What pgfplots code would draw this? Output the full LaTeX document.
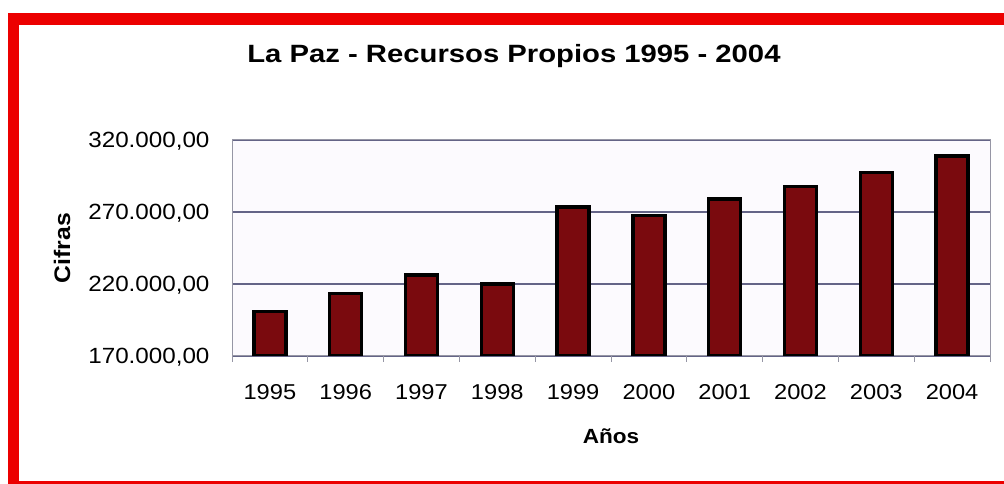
\documentclass[border=0pt]{standalone}
\usepackage{fontspec}
\setmainfont{Liberation Sans}[FakeStretch=1.1]
\newfontfamily\titlefont{Liberation Sans}[FakeStretch=1.17]
\usepackage{pgfplots}
\pgfplotsset{compat=1.18}
\definecolor{barred}{RGB}{122,10,14}
\definecolor{framered}{RGB}{236,0,0}
\definecolor{gridc}{RGB}{100,100,135}
\definecolor{plotbg}{RGB}{252,250,254}
\definecolor{axisc}{RGB}{150,150,165}
\begin{document}
\begin{tikzpicture}[x=1pt,y=1pt]
\path[use as bounding box] (0,0) rectangle (1004,484);
\fill[framered] (8,0) rectangle (19,471);
\fill[framered] (8,459) rectangle (1004,471);
\fill[framered] (8,0) rectangle (1004,2.5);
\begin{axis}[
  at={(232pt,128pt)}, anchor=south west,
  scale only axis, width=758pt, height=216pt,
  xmin=-0.5, xmax=9.5, ymin=170000, ymax=320000,
  scaled y ticks=false,
  xtick pos=bottom, ytick pos=left,
  axis background/.style={fill=plotbg},
  axis line style={draw=axisc, line width=1pt},
  ymajorgrids, grid style={draw=gridc, line width=1.2pt},
  ytick={170000,220000,270000,320000},
  yticklabels={{170.000,00},{220.000,00},{270.000,00},{320.000,00}},
  ytick style={draw=none},
  yticklabel style={font=\fontsize{22}{26}\selectfont, anchor=base east, xshift=-13pt, yshift=-8pt},
  xtick={-0.5,0.5,1.5,2.5,3.5,4.5,5.5,6.5,7.5,8.5,9.5},
  xticklabels={},
  tick align=outside, major tick length=6pt,
  xtick style={draw=axisc, line width=0.8pt},
  extra x ticks={0,1,2,3,4,5,6,7,8,9},
  extra x tick labels={1995,1996,1997,1998,1999,2000,2001,2002,2003,2004},
  extra x tick style={grid=none, major tick length=0pt},
  xticklabel style={font=\fontsize{21.5}{26}\selectfont, anchor=base, yshift=-44pt},
  title={La Paz - Recursos Propios 1995 - 2004},
  title style={at={(axis description cs:0.372,1.3333)}, anchor=base, font=\titlefont\fontsize{25}{30}\selectfont\bfseries},
  xlabel={Años},
  xlabel style={at={(axis description cs:0.5,-0.4074)}, anchor=base, font=\fontsize{20.5}{24}\selectfont\bfseries},
  ylabel={Cifras},
  ylabel style={at={(axis description cs:-0.2137,0.5)}, anchor=base, rotate=0, font=\fontsize{22.5}{26}\selectfont\bfseries},
]
\addplot[ybar, bar width=32pt, fill=barred, draw=black, line width=3.5pt]
  coordinates {(0,200800) (1,213500) (2,226250) (3,220000) (4,273300)
               (5,267400) (6,279000) (7,287600) (8,297300) (9,308900)};
\end{axis}
\end{tikzpicture}
\end{document}
